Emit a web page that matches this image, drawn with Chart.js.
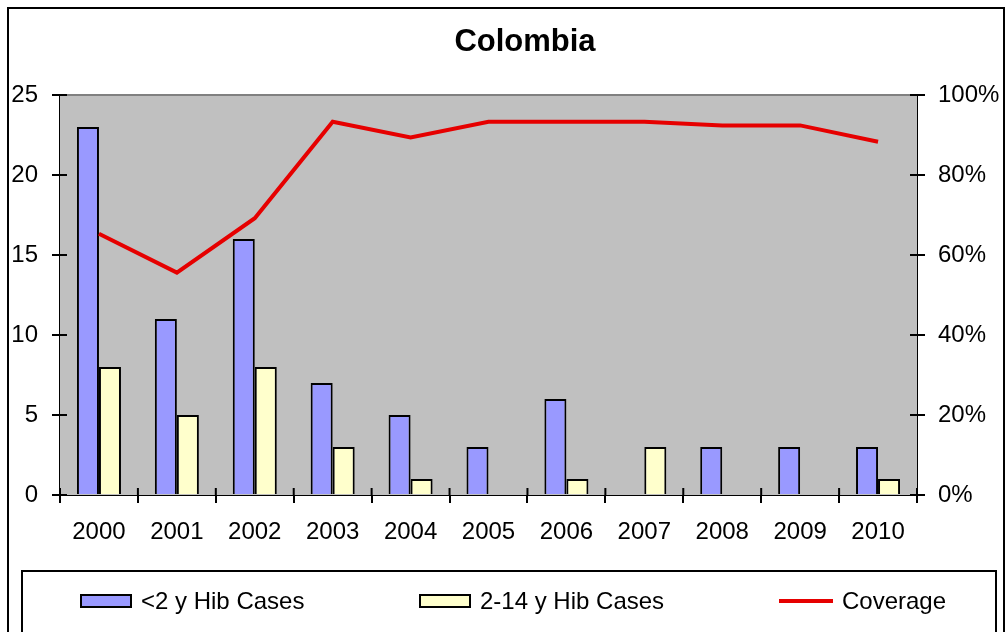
<!DOCTYPE html>
<html>
<head>
<meta charset="utf-8">
<title>Colombia</title>
<script src="https://cdn.jsdelivr.net/npm/chart.js@4/dist/chart.umd.min.js"></script>
<style>
    html, body { margin: 0; padding: 0; background: #fff; }
    body { width: 1006px; height: 632px; position: relative; overflow: hidden; font-family: Arial, 'Liberation Sans', sans-serif; }
    #chart { position: absolute; left: 0; top: 0; }
    .frame { position: absolute; left: 7px; top: 7px; width: 994px; height: 700px; border: 2px solid #000; pointer-events: none; }
    .title { position: absolute; left: 425px; width: 200px; top: 22px; text-align: center; font-weight: bold; font-size: 31px; line-height: 38px; color: #000; }
    .legend { position: absolute; left: 21px; top: 570px; width: 972px; height: 100px; border: 2px solid #000; }
    .legend-item { position: absolute; top: 15px; display: flex; align-items: center; font-size: 24px; line-height: 28px; color: #000; white-space: nowrap; }
    .legend-item .swatch { display: inline-block; margin-right: 9px; }
</style>
</head>
<body>
<canvas id="chart" width="1006" height="632"></canvas>
<div class="frame"></div>
<div class="title">Colombia</div>
<div class="legend" id="legend"></div>
<script>
// Hib cases by age group and vaccine coverage, Colombia 2000-2010
const years = ['2000', '2001', '2002', '2003', '2004', '2005', '2006', '2007', '2008', '2009', '2010'];
const casesUnder2 = [23, 11, 16, 7, 5, 3, 6, 0, 3, 3, 3];
const cases2to14 = [8, 5, 8, 3, 1, 0, 1, 3, 0, 0, 1];
const coverage = [65.3, 55.6, 69.2, 93.3, 89.4, 93.3, 93.3, 93.3, 92.4, 92.4, 88.3];
const caseTicks = [0, 5, 10, 15, 20, 25];
const coverageTicks = [0, 20, 40, 60, 80, 100];

const BLUE = '#9999FF';
const YELLOW = '#FFFFCC';
const RED = '#E60000';

// grey plot background plus inward half of the tick marks
const plotFrame = {
    id: 'plotFrame',
    beforeDatasetsDraw(chart) {
        const { ctx, chartArea: a } = chart;
        ctx.save();
        ctx.fillStyle = '#C0C0C0';
        ctx.fillRect(a.left, a.top, a.right - a.left, a.bottom - a.top);
        ctx.strokeStyle = '#808080';
        ctx.lineWidth = 2;
        ctx.beginPath();
        ctx.moveTo(a.left, a.top);
        ctx.lineTo(a.right, a.top);
        ctx.stroke();
        ctx.restore();
    },
    afterDraw(chart) {
        const { ctx, chartArea: a, scales } = chart;
        const inner = 7;
        ctx.save();
        ctx.strokeStyle = '#000';
        ctx.lineWidth = 2;
        ctx.beginPath();
        scales.y.ticks.forEach((t, i) => {
            const py = scales.y.getPixelForTick(i);
            ctx.moveTo(a.left, py);
            ctx.lineTo(a.left + inner, py);
        });
        scales.y1.ticks.forEach((t, i) => {
            const py = scales.y1.getPixelForTick(i);
            ctx.moveTo(a.right, py);
            ctx.lineTo(a.right - inner, py);
        });
        for (let i = 0; i <= years.length; i++) {
            const px = scales.x.getPixelForValue(i - 0.5);
            ctx.moveTo(px, a.bottom);
            ctx.lineTo(px, a.bottom - inner);
        }
        ctx.stroke();
        ctx.restore();
    }
};

const tickFont = { family: "Arial, 'Liberation Sans', sans-serif", size: 24 };
const axisGrid = { display: true, drawOnChartArea: false, drawTicks: true, tickLength: 8, color: '#000', lineWidth: 2 };
const axisBorder = { display: true, color: '#000', width: 2 };

const chart = new Chart(document.getElementById('chart'), {
    type: 'bar',
    data: {
        labels: years,
        datasets: [
            {
                type: 'line',
                label: 'Coverage',
                data: coverage,
                yAxisID: 'y1',
                borderColor: RED,
                backgroundColor: RED,
                borderWidth: 4,
                pointRadius: 0,
                tension: 0,
                order: 0
            },
            {
                label: '<2 y Hib Cases',
                data: casesUnder2,
                yAxisID: 'y',
                backgroundColor: BLUE,
                borderColor: '#000',
                borderWidth: 2,
                order: 1
            },
            {
                label: '2-14 y Hib Cases',
                data: cases2to14,
                yAxisID: 'y',
                backgroundColor: YELLOW,
                borderColor: '#000',
                borderWidth: 2,
                order: 1
            }
        ]
    },
    options: {
        responsive: false,
        animation: false,
        devicePixelRatio: 1,
        datasets: { bar: { barPercentage: 1, categoryPercentage: 0.565 } },
        layout: { padding: { left: 0, right: 0, top: 95, bottom: 85 } },
        plugins: {
            legend: { display: false },
            title: { display: false },
            tooltip: { enabled: false }
        },
        scales: {
            x: {
                offset: true,
                grid: { ...axisGrid, offset: true },
                border: axisBorder,
                ticks: { color: '#000', font: tickFont, padding: 15, maxRotation: 0 },
                afterFit(scale) { scale.height = 52; }
            },
            y: {
                position: 'left',
                min: 0,
                max: 25,
                afterBuildTicks(scale) { scale.ticks = caseTicks.map(v => ({ value: v })); },
                grid: axisGrid,
                border: axisBorder,
                ticks: { color: '#000', font: tickFont, padding: 14 },
                afterFit(scale) { scale.width = 60; }
            },
            y1: {
                position: 'right',
                min: 0,
                max: 100,
                afterBuildTicks(scale) { scale.ticks = coverageTicks.map(v => ({ value: v })); },
                grid: axisGrid,
                border: axisBorder,
                ticks: { color: '#000', font: tickFont, padding: 13, callback: v => v + '%' },
                afterFit(scale) { scale.width = 89; }
            }
        }
    },
    plugins: [plotFrame]
});

// legend below the plot, in the bar / bar / line order
const legendEl = document.getElementById('legend');
const legendOrder = [1, 2, 0];
const legendLeft = [57, 396, 756];
legendOrder.forEach((idx, k) => {
    const ds = chart.data.datasets[idx];
    const item = document.createElement('div');
    item.className = 'legend-item';
    item.style.left = legendLeft[k] + 'px';
    const sw = document.createElement('span');
    sw.className = 'swatch';
    if (ds.type === 'line') {
        sw.style.width = '54px';
        sw.style.height = '4px';
        sw.style.background = ds.borderColor;
    } else {
        sw.style.width = '48px';
        sw.style.height = '10px';
        sw.style.background = ds.backgroundColor;
        sw.style.border = '2px solid #000';
    }
    item.appendChild(sw);
    const txt = document.createElement('span');
    txt.textContent = ds.label;
    item.appendChild(txt);
    legendEl.appendChild(item);
});
</script>
</body>
</html>
